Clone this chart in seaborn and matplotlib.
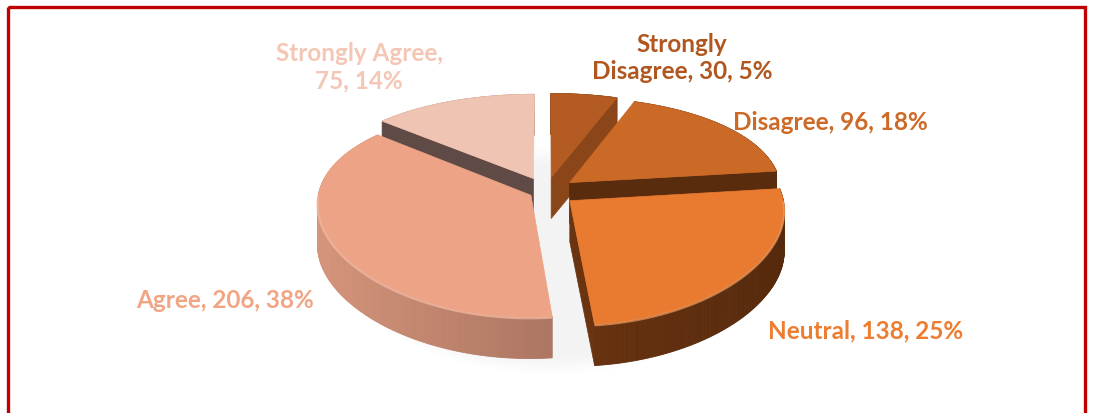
import numpy as np
import matplotlib
matplotlib.use("Agg")
import matplotlib.pyplot as plt
from matplotlib.patches import Polygon, Rectangle
import seaborn as sns

# Survey responses
categories = ["Strongly Disagree", "Disagree", "Neutral", "Agree", "Strongly Agree"]
counts = [30, 96, 138, 206, 75]
percent_labels = [5, 18, 25, 38, 14]

# Slice colours: top face, cut faces, wall (light side, dark side), label text
top_colors = ["#B35B22", "#CB6927", "#E97B30", "#EDA385", "#F0C4B3"]
face_colors = ["#8A4518", "#5A2C0E", "#6A3411", "#9A6553", "#5F4A45"]
wall_light = ["#8E4718", "#6A3411", "#7A3B12", "#D6957B", "#C9A194"]
wall_dark = ["#6A3411", "#55290C", "#55290C", "#8A5C4E", "#8F7066"]
label_colors = ["#B0571F", "#CD6A27", "#ED7D31", "#F1A585", "#F4C6B5"]

sns.set_theme(style="white")
plt.rcParams["font.family"] = ["Lato", "DejaVu Sans"]

W, H = 1093, 414
fig = plt.figure(figsize=(W / 100, H / 100), dpi=100)
ax = fig.add_axes([0, 0, 1, 1])
ax.set_xlim(0, W)
ax.set_ylim(H, 0)
ax.axis("off")

# Projection of the tilted pie (pixel units)
CX, CY = 546.0, 192.5
RX, RY = 212.0, 101.5
KX, KY = 0.08, 0.159   # perspective strength (back smaller, front larger)
DEPTH = 41.0           # thickness of the pie
explode = [0.143, 0.143, 0.143, 0.08, 0.143]


def proj(u, v, z=0.0):
    return CX + RX * u / (1.0 + KX * v), CY - RY * v / (1.0 + KY * v) + z * DEPTH


total = float(sum(counts))
angles = np.concatenate([[0.0], np.cumsum(counts) / total * 2 * np.pi])

slices = []
for i in range(len(counts)):
    t1, t2 = angles[i], angles[i + 1]
    mid = 0.5 * (t1 + t2)
    ou, ov = explode[i] * np.sin(mid), explode[i] * np.cos(mid)
    slices.append((i, t1, t2, mid, ou, ov))

# paint back slices first
order = sorted(slices, key=lambda s: -(s[5] + np.cos(s[3])))


def arc(ou, ov, t1, t2, z, n=120):
    ts = np.linspace(t1, t2, n)
    return [proj(ou + np.sin(t), ov + np.cos(t), z) for t in ts]


def mix(c1, c2, f):
    a = np.array(matplotlib.colors.to_rgb(c1))
    b = np.array(matplotlib.colors.to_rgb(c2))
    return tuple(a + (b - a) * f)


# faint shadow beneath the pie
for k in range(6):
    sh = arc(0.03, -0.03, 0, 2 * np.pi, 1.0 + 0.08 * k, 200)
    ax.fill([p[0] for p in sh], [p[1] for p in sh], color="#808080",
            alpha=0.012, lw=0, zorder=1)

z = 2
for (i, t1, t2, mid, ou, ov) in order:
    # outer wall, shaded in strips
    ts = np.linspace(t1, t2, 160)
    for a, b in zip(ts[:-1], ts[1:]):
        pa0 = proj(ou + np.sin(a), ov + np.cos(a), 0)
        pb0 = proj(ou + np.sin(b), ov + np.cos(b), 0)
        pb1 = proj(ou + np.sin(b), ov + np.cos(b), 1)
        pa1 = proj(ou + np.sin(a), ov + np.cos(a), 1)
        f = np.clip((np.sin(0.5 * (a + b)) + 1) / 2, 0, 1)  # 0 on the left, 1 on the right
        c = mix(wall_light[i], wall_dark[i], f)
        ax.add_patch(Polygon([pa0, pb0, pb1, pa1], closed=True,
                             facecolor=c, edgecolor=c, lw=0.6, zorder=z))
    z += 1
    # visible radial cut faces
    for phi, show in ((t1, np.sin(t1) < -1e-6), (t2, np.sin(t2) > 1e-6)):
        if show:
            quad = [proj(ou, ov, 0), proj(ou + np.sin(phi), ov + np.cos(phi), 0),
                    proj(ou + np.sin(phi), ov + np.cos(phi), 1), proj(ou, ov, 1)]
            ax.add_patch(Polygon(quad, closed=True, facecolor=face_colors[i],
                                 edgecolor=face_colors[i], lw=0.5, zorder=z))
    z += 1
    # top face
    top = [proj(ou, ov, 0)] + arc(ou, ov, t1, t2, 0)
    ax.add_patch(Polygon(top, closed=True, facecolor=top_colors[i],
                         edgecolor=top_colors[i], lw=0.5, zorder=z))
    # bevel highlight along the front rim
    lo, hi = max(t1, np.pi / 2), min(t2, 3 * np.pi / 2)
    if lo < hi:
        rim = [proj(ou + np.sin(t), ov + np.cos(t), 0.02)
               for t in np.linspace(lo, hi, 80)]
        ax.plot([p[0] for p in rim], [p[1] for p in rim],
                color=mix(top_colors[i], "#FFFFFF", 0.25), lw=1.5,
                alpha=0.7, zorder=z, solid_capstyle="butt")
    z += 1

# data labels
label_pos = [(682, 58), (830, 123), (866, 331), (225, 301), (359, 67)]
for i, name in enumerate(categories):
    value = f"{counts[i]}, {percent_labels[i]}%"
    if i == 0:
        text = name.replace(" ", "\n", 1) + ", " + value
    elif i == 4:
        text = name + ",\n" + value
    else:
        text = name + ", " + value
    ax.text(*label_pos[i], text, ha="center", va="center", fontsize=17.5,
            fontweight="bold", color=label_colors[i], linespacing=1.25,
            zorder=50)

# chart frame
ax.add_patch(Rectangle((8, 8), 1077, 420, fill=False, edgecolor="#C00000",
                       lw=2.4, zorder=60, clip_on=False))

fig.savefig("out.png", dpi=100, facecolor="white")
